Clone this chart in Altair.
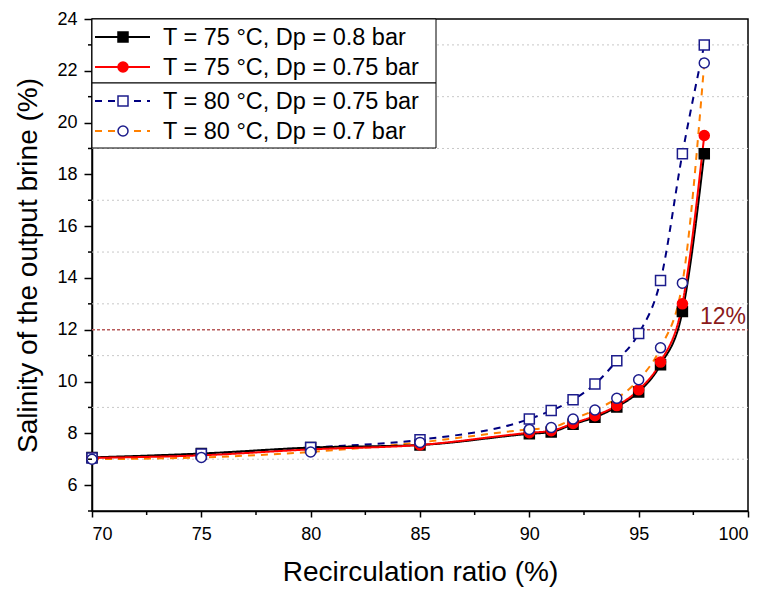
import altair as alt
import pandas as pd

# ---- data ----
ratio = [70, 75, 80, 85, 90, 91, 92, 93, 94, 95, 96, 97, 98]
s_75_08 = [7.07, 7.22, 7.45, 7.55, 7.98, 8.05, 8.35, 8.62, 9.02, 9.60, 10.65, 12.70, 18.80]
s_75_075 = [7.05, 7.15, 7.38, 7.55, 8.02, 8.10, 8.38, 8.68, 9.07, 9.68, 10.75, 13.00, 19.50]
s_80_075 = [7.05, 7.20, 7.45, 7.75, 8.55, 8.88, 9.30, 9.90, 10.80, 11.85, 13.90, 18.80, 23.00]
s_80_07 = [7.00, 7.07, 7.28, 7.65, 8.15, 8.22, 8.55, 8.90, 9.35, 10.07, 11.30, 13.80, 22.30]

labels = ["T = 75 °C, Dp = 0.8 bar", "T = 75 °C, Dp = 0.75 bar",
          "T = 80 °C, Dp = 0.75 bar", "T = 80 °C, Dp = 0.7 bar"]

x_ticks = [70, 75, 80, 85, 90, 95, 100]
x_minor = [72.5, 77.5, 82.5, 87.5, 92.5, 97.5]
y_ticks = [6, 8, 10, 12, 14, 16, 18, 20, 22, 24]
y_minor = [5, 7, 9, 11, 13, 15, 17, 19, 21, 23]
limit_value = [12]

W, H = 656, 492
FONT = "Liberation Sans"
NAVY = "#000080"
MARK_NAVY = "#1c1c8c"

X = alt.X("x:Q", scale=alt.Scale(domain=[70, 100], nice=False, zero=False),
          axis=alt.Axis(values=x_ticks, title="Recirculation ratio (%)", format="d",
                        tickSize=6, labelPadding=8, titleX=W / 2, titleY=69,
                        titleBaseline="alphabetic", titleAlign="center",
                        labelFont=FONT, labelFontSize=18, labelColor="black",
                        titleFont=FONT, titleFontSize=28, titleFontWeight="normal", titleColor="black",
                        domainColor="black", domainWidth=1.5, tickColor="black", tickWidth=1.5,
                        grid=False))
Y = alt.Y("y:Q", scale=alt.Scale(domain=[5, 24], nice=False, zero=False),
          axis=alt.Axis(values=y_ticks, title="Salinity of the output brine (%)", format="d",
                        tickSize=8, labelPadding=7, titleX=-56, titleY=H / 2,
                        titleBaseline="alphabetic", titleAlign="center", titleAngle=270,
                        labelFont=FONT, labelFontSize=18, labelColor="black",
                        titleFont=FONT, titleFontSize=28, titleFontWeight="normal", titleColor="black",
                        domainColor="black", domainWidth=1.5, tickColor="black", tickWidth=1.5,
                        grid=False))

def frame(vals):
    return pd.DataFrame({"x": ratio, "y": vals})

series = [
    dict(vals=s_75_08, color="black", dash=[1, 0], shape="square", fill="black", stroke="black"),
    dict(vals=s_75_075, color="#ff0000", dash=[1, 0], shape="circle", fill="#ff0000", stroke="#ff0000"),
    dict(vals=s_80_075, color=NAVY, dash=[7, 6], shape="square", fill="white", stroke=MARK_NAVY),
    dict(vals=s_80_07, color="#ff8000", dash=[7, 6], shape="circle", fill="white", stroke=MARK_NAVY),
]

layers = []

# minor gridlines
grid = alt.Chart(pd.DataFrame({"y": y_minor[1:]})).mark_rule(
    color="#c8c8c8", strokeDash=[2, 3], strokeWidth=1).encode(
    y=Y, x=alt.value(0), x2=alt.value(W))
layers.append(grid)

# 12% limit line
limit = alt.Chart(pd.DataFrame({"y": limit_value})).mark_rule(
    color="#b85a5a", strokeDash=[3, 2], strokeWidth=1.3).encode(
    y=Y, x=alt.value(0), x2=alt.value(W))
layers.append(limit)

# lines (orange, blue, black, red)
for idx in [3, 2, 0, 1]:
    s = series[idx]
    layers.append(alt.Chart(frame(s["vals"])).mark_line(
        color=s["color"], strokeDash=s["dash"], strokeWidth=2, interpolate="monotone").encode(x=X, y=Y))

# markers (black, red, blue, orange)
for s in series:
    layers.append(alt.Chart(frame(s["vals"])).mark_point(
        shape=s["shape"], filled=True, fill=s["fill"], stroke=s["stroke"],
        strokeWidth=1.5, size=100, opacity=1).encode(x=X, y=Y))

# 12% label
layers.append(alt.Chart(pd.DataFrame({"y": limit_value, "t": ["12%"]})).mark_text(
    font=FONT, fontSize=23, color="#8b1a1a", align="right", baseline="alphabetic", dy=-6).encode(
    y=Y, x=alt.value(W - 2), text="t:N"))

# legend boxes
one = pd.DataFrame({"a": [0]})
for (top, bottom) in [(0, 64), (64, 129)]:
    layers.append(alt.Chart(one).mark_rect(fill="white", stroke="black", strokeWidth=1).encode(
        x=alt.value(0), x2=alt.value(344), y=alt.value(top), y2=alt.value(bottom)))

row_y = [18, 48, 82, 112]
for s, lab, ry in zip(series, labels, row_y):
    layers.append(alt.Chart(one).mark_rule(color=s["color"], strokeDash=s["dash"], strokeWidth=2).encode(
        x=alt.value(3), x2=alt.value(58), y=alt.value(ry)))
    layers.append(alt.Chart(one).mark_point(
        shape=s["shape"], filled=True, fill=s["fill"], stroke=s["stroke"],
        strokeWidth=1.5, size=100, opacity=1).encode(x=alt.value(31), y=alt.value(ry)))
    layers.append(alt.Chart(pd.DataFrame({"t": [lab]})).mark_text(
        font=FONT, fontSize=23.5, color="black", align="left", baseline="middle").encode(
        x=alt.value(71), y=alt.value(ry + 1), text="t:N"))

# minor ticks
layers.append(alt.Chart(pd.DataFrame({"x": x_minor})).mark_rule(color="black", strokeWidth=1.5).encode(
    x=X, y=alt.value(H), y2=alt.value(H + 4)))
layers.append(alt.Chart(pd.DataFrame({"y": y_minor})).mark_rule(color="black", strokeWidth=1.5).encode(
    y=Y, x=alt.value(-4), x2=alt.value(0)))

chart = alt.layer(*layers).properties(
    width=W, height=H,
    background="white",
    autosize=alt.AutoSizeParams(type="none"),
    padding={"left": 84, "top": 11, "right": 11, "bottom": 78},
).configure_view(stroke="black", strokeWidth=1.5)

chart.save("out.html", embed_options={"renderer": "svg", "actions": False})
